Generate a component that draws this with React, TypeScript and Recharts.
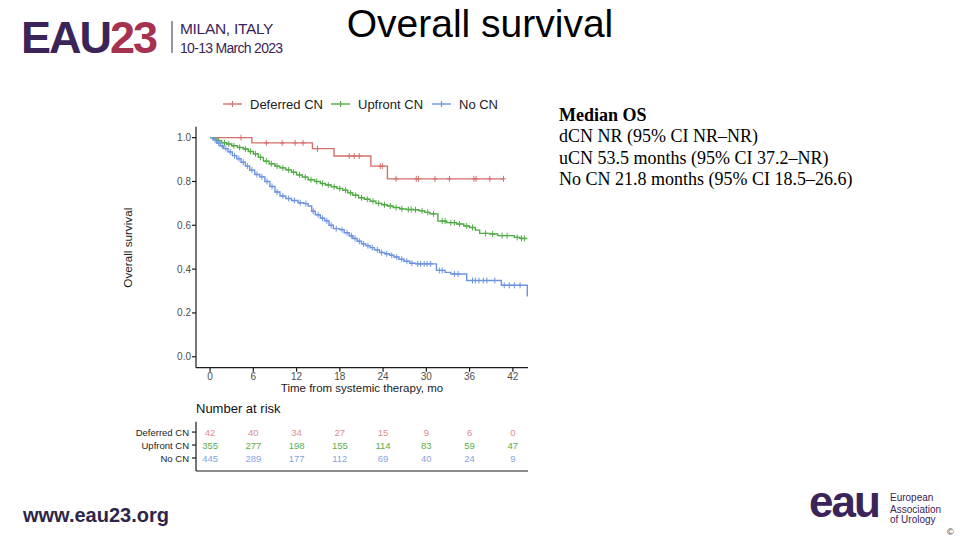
import {
  ComposedChart,
  ScatterChart,
  Line,
  Scatter,
  XAxis,
  YAxis,
} from 'recharts'

// Kaplan-Meier step points (months, survival)
const deferredTime = [0, 5.8, 14.2, 17.2, 22.3, 24.6, 40.7]
const deferredSurv = [1.0, 0.976, 0.95, 0.916, 0.87, 0.812, 0.812]
const deferredCensor = [4.3, 7.8, 10.0, 11.8, 12.9, 14.9, 19.3, 20.0, 20.7, 23.6, 23.9, 25.8, 28.6, 28.9, 31.2, 33.2, 36.6, 36.9, 38.8, 40.7]

const upfrontTime = [
  0, 0.5, 1.0, 1.6, 2.3, 3.0, 3.8, 4.6, 5.3, 6.0, 6.7, 7.4, 8.2, 9.0, 9.7, 10.5, 11.3, 12.0, 12.8, 13.6,
  14.5, 15.3, 16.0, 16.8, 17.6, 18.4, 19.1, 19.8, 20.6, 21.4, 22.2, 23.0, 23.8, 24.6, 25.4, 26.3, 27.2,
  28.2, 29.0, 29.8, 30.5, 31.6, 32.8, 34.2, 35.2, 36.0, 36.8, 37.4, 38.8, 39.9, 42.2, 43.0, 44.0,
]
const upfrontSurv = [
  1.0, 0.994, 0.986, 0.977, 0.971, 0.963, 0.955, 0.948, 0.937, 0.926, 0.91, 0.893, 0.881, 0.87, 0.862,
  0.853, 0.842, 0.83, 0.82, 0.808, 0.8, 0.791, 0.784, 0.776, 0.768, 0.76, 0.748, 0.737, 0.726, 0.719,
  0.71, 0.7, 0.694, 0.688, 0.681, 0.675, 0.672, 0.671, 0.666, 0.659, 0.652, 0.619, 0.612, 0.606, 0.597,
  0.59, 0.578, 0.563, 0.56, 0.553, 0.545, 0.54, 0.54,
]
const upfrontCensor = [
  1.2, 2.0, 2.6, 3.3, 4.1, 4.9, 5.6, 6.3, 7.0, 7.8, 8.5, 9.3, 10.1, 10.9, 11.6, 12.4, 13.2, 14.0, 14.8,
  15.6, 16.4, 17.2, 18.0, 18.8, 19.5, 20.2, 21.0, 21.8, 22.6, 23.4, 24.2, 25.0, 25.8, 26.6, 27.5, 27.9,
  28.5, 29.4, 30.2, 31.0, 32.2, 32.6, 33.4, 33.9, 34.6, 35.6, 36.4, 38.2, 39.2, 40.5, 41.2, 42.6, 43.2, 43.6,
]

const noCnTime = [
  0, 0.4, 0.9, 1.4, 1.9, 2.5, 3.1, 3.7, 4.3, 4.9, 5.5, 6.2, 6.9, 7.6, 8.3, 9.0, 9.7, 10.5, 11.3, 12.2,
  13.0, 13.6, 14.1, 14.6, 15.3, 15.9, 16.5, 17.1, 18.0, 18.6, 19.3, 19.8, 20.4, 21.0, 21.6, 22.2, 22.8,
  23.5, 24.2, 24.9, 25.5, 26.2, 26.9, 27.7, 28.5, 31.4, 32.6, 33.4, 35.6, 40.4, 44.0,
]
const noCnSurv = [
  1.0, 0.99, 0.975, 0.962, 0.95, 0.935, 0.918, 0.904, 0.888, 0.87, 0.852, 0.832, 0.821, 0.8, 0.777, 0.752,
  0.734, 0.722, 0.713, 0.703, 0.699, 0.688, 0.664, 0.648, 0.632, 0.62, 0.6, 0.585, 0.58, 0.566, 0.552,
  0.54, 0.527, 0.515, 0.507, 0.498, 0.488, 0.476, 0.47, 0.463, 0.455, 0.445, 0.436, 0.427, 0.424, 0.394,
  0.385, 0.378, 0.348, 0.326, 0.275,
]
const noCnCensor = [
  0.7, 1.2, 1.7, 2.2, 2.8, 3.4, 4.0, 4.6, 5.2, 5.8, 6.5, 7.2, 7.9, 8.6, 9.3, 10.1, 10.9, 11.7, 12.5, 13.3,
  14.3, 15.0, 15.6, 16.2, 16.8, 17.5, 18.3, 19.0, 19.6, 20.1, 20.7, 21.3, 21.9, 22.5, 23.2, 23.8, 24.5,
  25.2, 25.9, 26.6, 27.3, 28.0, 28.8, 29.2, 29.7, 30.1, 30.6, 31.8, 32.2, 33.9, 34.4, 36.4, 36.8, 37.3,
  37.9, 38.4, 39.5, 40.8, 41.5, 42.2, 43.0,
]

const riskTimes = [0, 6, 12, 18, 24, 30, 36, 42]
const riskDeferred = [42, 40, 34, 27, 15, 9, 6, 0]
const riskUpfront = [355, 277, 198, 155, 114, 83, 59, 47]
const riskNoCn = [445, 289, 177, 112, 69, 40, 24, 9]

const groupNames = ['Deferred CN', 'Upfront CN', 'No CN']
const xTicks = [0, 6, 12, 18, 24, 30, 36, 42]
const yTicks = [0, 0.2, 0.4, 0.6, 0.8, 1.0]

const RED = '#D4706D'
const GREEN = '#52AB46'
const BLUE = '#6E94E0'
const SANS = '"Liberation Sans", Arial, sans-serif'
const SERIF = '"Liberation Serif", "Times New Roman", serif'
const PURPLE = '#3A2458'

function steps(time: number[], surv: number[]) {
  return time.map((t, i) => ({ t, s: surv[i] }))
}

// censor marks sit on the curve at the time of censoring
function censors(censorTimes: number[], time: number[], surv: number[]) {
  return censorTimes.map((t) => {
    let s = surv[0]
    for (let i = 0; i < time.length; i++) if (time[i] <= t) s = surv[i]
    return { t, s }
  })
}

function riskRows(values: number[], row: number) {
  return riskTimes.map((t, i) => ({ t, row, n: values[i] }))
}

const cross = (color: string) => (props: any) => {
  const { cx, cy } = props
  return (
    <g stroke={color} strokeWidth={1}>
      <line x1={cx - 2.5} x2={cx + 2.5} y1={cy} y2={cy} />
      <line x1={cx} x2={cx} y1={cy - 3} y2={cy + 3} />
    </g>
  )
}

const riskLabel = (color: string) => (props: any) => {
  const { cx, cy, payload } = props
  return (
    <text x={cx} y={cy} textAnchor="middle" dominantBaseline="central" fill={color} fontSize={9.5} fontFamily={SANS}>
      {payload.n}
    </text>
  )
}

// row names of the risk table, kept on one line
const RowTick = (props: any) => {
  const { x, y, payload } = props
  return (
    <text x={x} y={y} textAnchor="end" dominantBaseline="central" fill="#222" fontSize={9.5} fontFamily={SANS}>
      {groupNames[3 - payload.value]}
    </text>
  )
}

const axisStyle = { stroke: '#1a1a1a', strokeWidth: 1.2 }

function LegendItem({ x, color, label }: { x: number; color: string; label: string }) {
  return (
    <g>
      <line x1={x} x2={x + 19} y1={104} y2={104} stroke={color} strokeWidth={1.4} />
      <line x1={x + 9.5} x2={x + 9.5} y1={101} y2={107} stroke={color} strokeWidth={1.2} />
      <text x={x + 27} y={108.5} fontSize={13} fill="#222" fontFamily={SANS}>
        {label}
      </text>
    </g>
  )
}

export default function App() {
  return (
    <div style={{ position: 'absolute', left: 0, top: 0, width: 960, height: 540, background: '#fff', overflow: 'hidden' }}>
      <svg width={960} height={540} style={{ position: 'absolute', left: 0, top: 0 }}>
        {/* header */}
        <text x={21} y={53.3} fontSize={45} fontWeight="bold" fontFamily={SANS} letterSpacing={-2} fill={PURPLE}>
          EAU<tspan fill="#A5324F">23</tspan>
        </text>
        <line x1={172} x2={172} y1={21} y2={53} stroke={PURPLE} strokeWidth={1} />
        <text x={180} y={34.3} fontSize={15.5} fontFamily={SANS} letterSpacing={-0.3} fill={PURPLE}>MILAN, ITALY</text>
        <text x={180} y={53.3} fontSize={14} fontFamily={SANS} letterSpacing={-0.7} fill={PURPLE}>10-13 March 2023</text>
        <text x={480} y={37.3} textAnchor="middle" fontSize={39} fontFamily={SANS} fill="#000">Overall survival</text>

        {/* legend */}
        <LegendItem x={223} color={RED} label={groupNames[0]} />
        <LegendItem x={331} color={GREEN} label={groupNames[1]} />
        <LegendItem x={432} color={BLUE} label={groupNames[2]} />

        {/* axis titles */}
        <text transform="translate(132.3,247.7) rotate(-90)" textAnchor="middle" fontSize={11.7} fontFamily={SANS} fill="#222">
          Overall survival
        </text>
        <text x={362} y={391.7} textAnchor="middle" fontSize={11.5} fontFamily={SANS} fill="#222">
          Time from systemic therapy, mo
        </text>
        <text x={196} y={412.7} fontSize={13} fontFamily={SANS} fill="#111">Number at risk</text>

        {/* median OS box */}
        <g fontFamily={SERIF} fontSize={18} fill="#000">
          <text x={559} y={120.7} fontWeight="bold">Median OS</text>
          <text x={559} y={142.2}>dCN NR (95% CI NR–NR)</text>
          <text x={559} y={163.6}>uCN 53.5 months (95% CI 37.2–NR)</text>
          <text x={559} y={185}>No CN 21.8 months (95% CI 18.5–26.6)</text>
        </g>

        {/* footer */}
        <text x={23} y={521.7} fontSize={20} fontWeight="bold" fontFamily={SANS} fill="#2E2548">www.eau23.org</text>
        <text x={809} y={517} fontSize={44} fontWeight="bold" fontFamily={SANS} letterSpacing={-2} fill={PURPLE}>eau</text>
        <g fontSize={10} fontFamily={SANS} fill={PURPLE}>
          <text x={890} y={500.5}>European</text>
          <text x={890} y={512.5}>Association</text>
          <text x={890} y={522.7}>of Urology</text>
        </g>
        <text x={947} y={535} fontSize={9} fontFamily={SANS} fill="#333">©</text>
      </svg>

      <div style={{ position: 'absolute', left: 0, top: 0 }}>
        <ComposedChart width={560} height={400} margin={{ top: 126.7, right: 32, bottom: 2.3, left: 121 }}>
          <XAxis
            type="number"
            dataKey="t"
            domain={[-1.95, 44.1]}
            ticks={xTicks}
            allowDataOverflow
            height={30}
            axisLine={axisStyle}
            tickLine={axisStyle}
            tickSize={4}
            tickMargin={1}
            tick={{ fill: '#4d4d4d', fontSize: 10, fontFamily: SANS }}
          />
          <YAxis
            type="number"
            dataKey="s"
            domain={[-0.05, 1.05]}
            ticks={yTicks}
            allowDataOverflow
            width={75}
            tickFormatter={(v: number) => v.toFixed(1)}
            axisLine={axisStyle}
            tickLine={axisStyle}
            tickSize={4}
            tickMargin={1}
            tick={{ fill: '#4d4d4d', fontSize: 10, fontFamily: SANS }}
          />
          <Line data={steps(deferredTime, deferredSurv)} dataKey="s" type="stepAfter" stroke={RED} strokeWidth={1.4} dot={false} isAnimationActive={false} />
          <Line data={steps(upfrontTime, upfrontSurv)} dataKey="s" type="stepAfter" stroke={GREEN} strokeWidth={1.4} dot={false} isAnimationActive={false} />
          <Line data={steps(noCnTime, noCnSurv)} dataKey="s" type="stepAfter" stroke={BLUE} strokeWidth={1.4} dot={false} isAnimationActive={false} />
          <Scatter data={censors(deferredCensor, deferredTime, deferredSurv)} dataKey="s" shape={cross(RED)} isAnimationActive={false} />
          <Scatter data={censors(upfrontCensor, upfrontTime, upfrontSurv)} dataKey="s" shape={cross(GREEN)} isAnimationActive={false} />
          <Scatter data={censors(noCnCensor, noCnTime, noCnSurv)} dataKey="s" shape={cross(BLUE)} isAnimationActive={false} />
        </ComposedChart>
      </div>

      <div style={{ position: 'absolute', left: 0, top: 415 }}>
        <ScatterChart width={560} height={80} margin={{ top: 6.7, right: 32, bottom: 14, left: 121 }}>
          <XAxis
            type="number"
            dataKey="t"
            domain={[-1.95, 44.1]}
            ticks={xTicks}
            allowDataOverflow
            height={10}
            axisLine={axisStyle}
            tickLine={{ stroke: '#555', strokeWidth: 1 }}
            tickSize={3}
            tick={false}
          />
          <YAxis
            type="number"
            dataKey="row"
            domain={[0, 3.8]}
            ticks={[1, 2, 3]}
            interval={0}
            width={75}
            axisLine={axisStyle}
            tickLine={axisStyle}
            tickSize={4}
            tickMargin={3}
            tick={<RowTick />}
          />
          <Scatter data={riskRows(riskDeferred, 3)} shape={riskLabel('#D98E8B')} isAnimationActive={false} />
          <Scatter data={riskRows(riskUpfront, 2)} shape={riskLabel('#5AAE4E')} isAnimationActive={false} />
          <Scatter data={riskRows(riskNoCn, 1)} shape={riskLabel('#88A4DF')} isAnimationActive={false} />
        </ScatterChart>
      </div>
    </div>
  )
}
